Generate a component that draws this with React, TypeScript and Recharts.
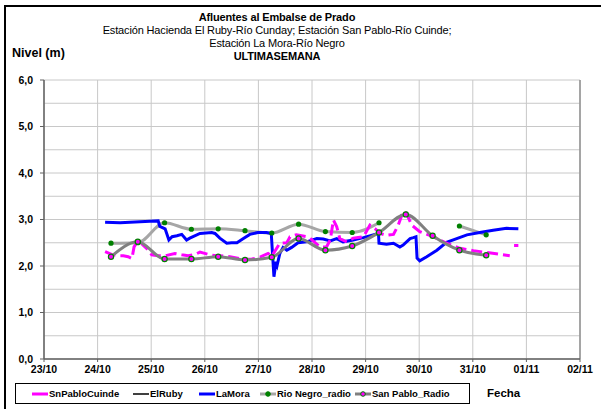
import React from 'react';
import { ComposedChart, Line, XAxis, YAxis, CartesianGrid, ReferenceLine } from 'recharts';

const xTickLabels = ['23/10', '24/10', '25/10', '26/10', '27/10', '28/10', '29/10', '30/10', '31/10', '01/11', '02/11'];
const xTicks = [0, 1, 2, 3, 4, 5, 6, 7, 8, 9, 10];
const yTicks = [0, 1, 2, 3, 4, 5, 6];
const yGridValues = [0, 0.5, 1, 1.5, 2, 2.5, 3, 3.5, 4, 4.5, 5, 5.5, 6];

const laMoraDays = [1.14, 1.42, 1.79, 1.98, 2.13, 2.16, 2.26, 2.33, 2.39, 2.48, 2.57, 2.66, 2.72, 2.91, 3.13, 3.19, 3.28, 3.41, 3.5, 3.6, 3.72, 3.84, 3.99, 4.15, 4.24, 4.29, 4.33, 4.35, 4.4, 4.46, 4.53, 4.62, 4.74, 4.9, 5.09, 5.21, 5.34, 5.46, 5.58, 5.77, 5.96, 6.14, 6.24, 6.25, 6.39, 6.52, 6.64, 6.7, 6.83, 6.89, 6.94, 6.96, 7.01, 7.14, 7.33, 7.51, 7.7, 7.89, 8.13, 8.38, 8.63, 8.85];
const laMoraLevels = [2.94, 2.93, 2.95, 2.96, 2.97, 2.85, 2.8, 2.56, 2.63, 2.65, 2.68, 2.56, 2.6, 2.7, 2.72, 2.7, 2.6, 2.49, 2.5, 2.5, 2.59, 2.68, 2.72, 2.72, 2.7, 1.77, 2.09, 2.02, 2.27, 2.4, 2.34, 2.4, 2.5, 2.52, 2.59, 2.58, 2.54, 2.59, 2.52, 2.56, 2.61, 2.67, 2.7, 2.49, 2.47, 2.49, 2.41, 2.45, 2.59, 2.61, 2.63, 2.17, 2.11, 2.2, 2.34, 2.51, 2.59, 2.67, 2.72, 2.77, 2.81, 2.8];

const cuindeDays = [1.14, 1.26, 1.38, 1.48, 1.57, 1.64, 1.68, 1.73, 1.79, 1.85, 1.95, 2.01, 2.13, 2.26, 2.44, 2.57, 2.69, 2.82, 2.91, 3.1, 3.22, 3.28, 3.47, 3.72, 3.88, 4.03, 4.18, 4.25, 4.4, 4.53, 4.59, 4.71, 4.9, 4.96, 5.15, 5.27, 5.34, 5.4, 5.46, 5.52, 5.65, 5.77, 5.96, 6.08, 6.18, 6.27, 6.39, 6.52, 6.61, 6.7, 6.76, 6.86, 7.01, 7.26, 7.51, 7.76, 8.01, 8.26, 8.51, 8.69, 8.73, 8.77, 8.85];
const cuindeLevels: (number | null)[] = [2.31, 2.25, 2.22, 2.22, 2.2, 2.16, 2.41, 2.5, 2.52, 2.45, 2.34, 2.24, 2.22, 2.22, 2.27, 2.24, 2.22, 2.25, 2.3, 2.24, 2.22, 2.22, 2.2, 2.14, 2.15, 2.19, 2.27, 2.21, 2.49, 2.5, 2.63, 2.67, 2.63, 2.6, 2.41, 2.41, 2.56, 2.99, 2.85, 2.59, 2.52, 2.6, 2.63, 2.88, 2.8, 2.7, 2.66, 2.68, 2.88, 3.17, 3.14, 2.88, 2.74, 2.63, 2.49, 2.38, 2.33, 2.29, 2.25, 2.22, null, 2.44, 2.44];

const elRubyDays: number[] = [];
const elRubyLevels: number[] = [];

const radioDays = [1.25, 1.75, 2.25, 2.75, 3.25, 3.75, 4.25, 4.75, 5.25, 5.75, 6.25, 6.75, 7.25, 7.75, 8.25];
const rioNegroLevels: (number | null)[] = [2.49, 2.5, 2.93, 2.79, 2.8, 2.76, 2.71, 2.9, 2.74, 2.72, 2.93, null, null, 2.86, 2.67];
const sanPabloLevels = [2.2, 2.52, 2.15, 2.15, 2.2, 2.13, 2.19, 2.59, 2.34, 2.43, 2.72, 3.11, 2.65, 2.34, 2.23];

const seriesNames = ['SnPabloCuinde', 'ElRuby', 'LaMora', 'Rio Negro_radio', 'San Pablo_Radio'];

const zip = (xs: number[], ys: (number | null)[]) => xs.map((x, i) => ({ x, y: ys[i] }));

const laMoraData = zip(laMoraDays, laMoraLevels);
const cuindeData = zip(cuindeDays, cuindeLevels);
const elRubyData = zip(elRubyDays, elRubyLevels);
const rioNegroData = zip(radioDays, rioNegroLevels);
const sanPabloData = zip(radioDays, sanPabloLevels);

const FONT = '"Liberation Sans", Arial, sans-serif';

const RioDot = (p: any) => {
  if (p.cx == null || p.cy == null || p.value == null) return <g key={p.key} />;
  return <circle key={p.key} cx={p.cx} cy={p.cy} r={2.6} fill="#008000" />;
};
const SanDot = (p: any) => {
  if (p.cx == null || p.cy == null) return <g key={p.key} />;
  return <circle key={p.key} cx={p.cx} cy={p.cy} r={2.6} fill="#ff00ff" stroke="#008000" strokeWidth={1.2} />;
};

const legendSwatches = [
  { left: 32, color: '#ff00ff', dot: null as null | { fill: string; stroke: string } },
  { left: 133, color: '#000000', dot: null },
  { left: 199, color: '#0000ff', dot: null },
  { left: 260, color: '#a6a6a6', dot: { fill: '#008000', stroke: '#008000' } },
  { left: 355, color: '#808080', dot: { fill: '#ff00ff', stroke: '#008000' } },
];

export default function App() {
  return (
    <div style={{ position: 'absolute', left: 0, top: 0, width: 601, height: 409, background: '#fff', fontFamily: FONT }}>
      <ComposedChart
        width={601}
        height={409}
        margin={{ top: 80, right: 21, bottom: 20, left: 4 }}
      >
        <CartesianGrid
          stroke="#c8c8c8"
          strokeWidth={1}
          horizontalValues={yGridValues}
          verticalValues={xTicks}
        />
        <XAxis
          type="number"
          dataKey="x"
          domain={[0, 10]}
          ticks={xTicks}
          interval={0}
          height={30}
          allowDataOverflow
          tickFormatter={(v: number) => xTickLabels[v] ?? ''}
          tick={{ fontSize: 10.5, fontWeight: 'bold', fill: '#000', fontFamily: FONT }}
          tickSize={3}
          tickMargin={4}
          axisLine={{ stroke: '#606060', strokeWidth: 1.5 }}
          tickLine={{ stroke: '#606060' }}
        />
        <YAxis
          type="number"
          domain={[0, 6]}
          ticks={yTicks}
          interval={0}
          width={40}
          allowDataOverflow
          tickFormatter={(v: number) => v.toFixed(1).replace('.', ',')}
          tick={{ fontSize: 10.5, fontWeight: 'bold', fill: '#000', fontFamily: FONT }}
          tickSize={4}
          tickMargin={7}
          axisLine={{ stroke: '#606060', strokeWidth: 1.5 }}
          tickLine={{ stroke: '#606060' }}
        />
        <ReferenceLine x={10} stroke="#909090" strokeWidth={1.5} />
        <Line
          data={elRubyData}
          dataKey="y"
          name={seriesNames[1]}
          stroke="#000"
          strokeWidth={1.5}
          dot={false}
          isAnimationActive={false}
        />
        <Line
          data={rioNegroData}
          dataKey="y"
          name={seriesNames[3]}
          type="monotone"
          stroke="#a6a6a6"
          strokeWidth={3}
          dot={RioDot}
          activeDot={false}
          connectNulls={false}
          isAnimationActive={false}
        />
        <Line
          data={laMoraData}
          dataKey="y"
          name={seriesNames[2]}
          stroke="#0000ff"
          strokeWidth={3}
          dot={false}
          isAnimationActive={false}
        />
        <Line
          data={cuindeData}
          dataKey="y"
          name={seriesNames[0]}
          stroke="#ff00ff"
          strokeWidth={3}
          strokeDasharray="11 5"
          dot={false}
          connectNulls={false}
          isAnimationActive={false}
        />
        <Line
          data={sanPabloData}
          dataKey="y"
          name={seriesNames[4]}
          type="monotone"
          stroke="#808080"
          strokeWidth={3}
          dot={SanDot}
          activeDot={false}
          isAnimationActive={false}
        />
      </ComposedChart>

      {/* frame */}
      <div style={{ position: 'absolute', left: 4, top: 5, width: 597, height: 404, borderTop: '2px solid #000', borderLeft: '2px solid #000', pointerEvents: 'none' }} />

      {/* titles */}
      <div style={{ position: 'absolute', left: 0, width: 554, top: 11, textAlign: 'center', fontSize: 11, lineHeight: '13px', color: '#000', letterSpacing: -0.15 }}>
        <div style={{ fontWeight: 'bold' }}>Afluentes al Embalse de Prado</div>
        <div>Estación Hacienda El Ruby-Río Cunday; Estación San Pablo-Río Cuinde;</div>
        <div>Estación La Mora-Río Negro</div>
        <div style={{ fontWeight: 'bold' }}>ULTIMASEMANA</div>
      </div>
      <div style={{ position: 'absolute', left: 12, top: 46, fontSize: 12.5, fontWeight: 'bold', lineHeight: '14px' }}>Nivel (m)</div>
      <div style={{ position: 'absolute', left: 487, top: 387, fontSize: 11.5, fontWeight: 'bold', lineHeight: '13px' }}>Fecha</div>

      {/* legend */}
      <div style={{ position: 'absolute', left: 15, top: 383, width: 455, height: 21, border: '1px solid #000', boxSizing: 'border-box' }} />
      {seriesNames.map((name, i) => {
        const s = legendSwatches[i];
        return (
          <div key={name} style={{ position: 'absolute', left: s.left, top: 388, height: 12, display: 'flex', alignItems: 'center', fontSize: 9.5, fontWeight: 'bold', lineHeight: '12px', whiteSpace: 'nowrap' }}>
            <svg width={16} height={12} style={{ display: 'block' }}>
              <line x1={0} y1={6} x2={16} y2={6} stroke={s.color} strokeWidth={s.dot ? 3 : (i === 1 ? 1.5 : 3)} />
              {s.dot && <circle cx={8} cy={6} r={2.3} fill={s.dot.fill} stroke={s.dot.stroke} strokeWidth={1} />}
            </svg>
            <span style={{ marginLeft: 1 }}>{name}</span>
          </div>
        );
      })}
    </div>
  );
}
